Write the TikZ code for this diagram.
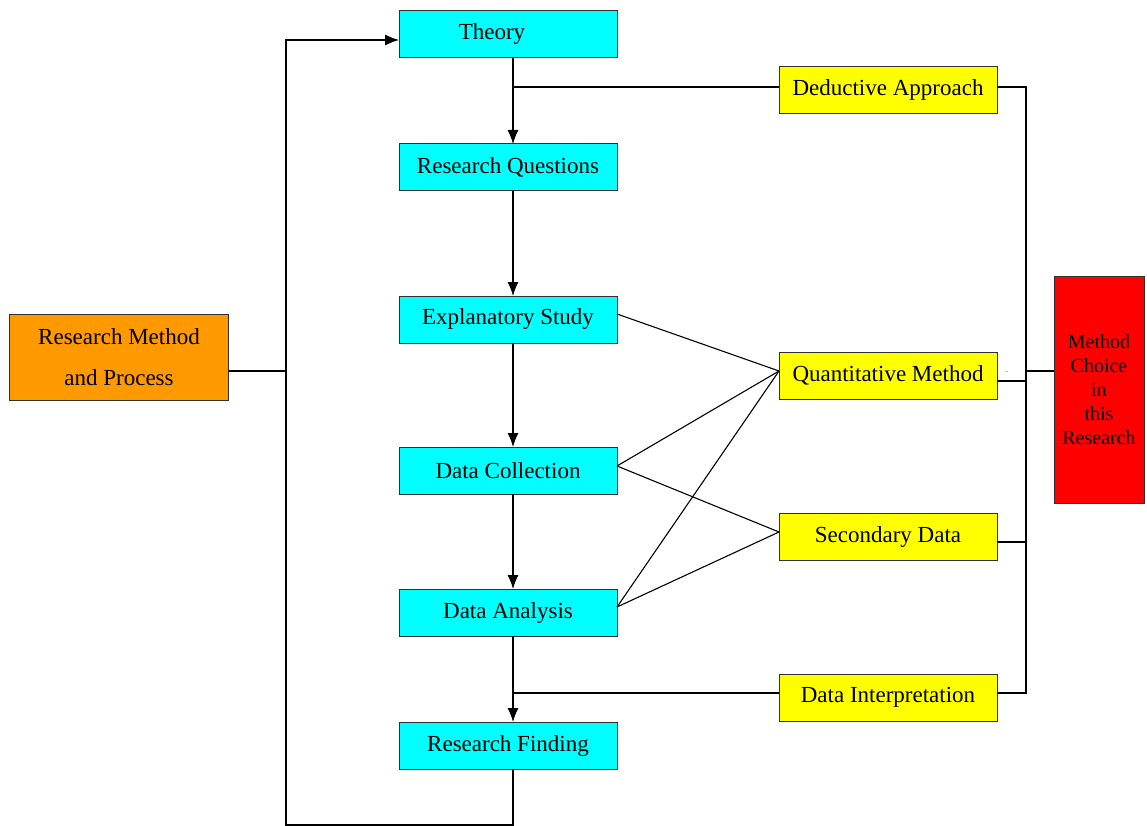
\documentclass[tikz,border=0pt]{standalone}
\usepackage{fontspec}
\setmainfont{Liberation Serif}
\usetikzlibrary{arrows.meta}
\definecolor{boxcyan}{HTML}{00FFFF}
\definecolor{boxyellow}{HTML}{FFFF00}
\definecolor{boxorange}{HTML}{FF9900}
\definecolor{boxred}{HTML}{FF0000}
\definecolor{edge}{HTML}{303030}
\begin{document}
\begin{tikzpicture}[x=1pt,y=-1pt,
  box/.style={draw=edge,line width=1pt,minimum width=218pt,minimum height=47pt,
    inner sep=0pt,outer sep=0pt,font=\fontsize{23}{27}\selectfont},
  stagebox/.style={box,fill=boxcyan},
  methodbox/.style={box,fill=boxyellow},
  link/.style={line width=1.1pt,black},
  flow/.style={link,-{Latex[length=14pt,width=11pt]}}]
\useasboundingbox (0,0) rectangle (1147,826);

% process stages
\node[stagebox] (th) at (508,34.5) {\hspace*{-32pt}Theory};
\node[stagebox] (rq) at (508,167.5) {Research Questions};
\node[stagebox] (es) at (508,319.5) {Explanatory Study};
\node[stagebox] (dc) at (508,470.5) {Data Collection};
\node[stagebox] (da) at (508,612.5) {Data Analysis};
\node[stagebox] (rf) at (508,745.5) {Research Finding};

% method choices
\node[methodbox] (dd) at (888,90) {Deductive Approach};
\node[methodbox] (qm) at (888,375.5) {Quantitative Method};
\node[methodbox] (sd) at (888,537) {Secondary Data};
\node[methodbox] (di) at (888,697.5) {Data Interpretation};

% side boxes
\node[box,fill=boxorange,minimum width=219pt,minimum height=86pt,align=center,
  font=\fontsize{23}{41}\selectfont] (rm) at (119,357) {Research Method\\and Process};
\node[box,fill=boxred,minimum width=90pt,minimum height=227pt,align=center,
  font=\fontsize{20}{24}\selectfont] (mc) at (1099,389.5) {Method\\Choice\\in\\this\\Research};
\node[font=\fontsize{8}{8}\selectfont,anchor=base,inner sep=0pt] (dot) at (1007,372) {.};

% helper coordinates for the routing lines
\coordinate (bus) at (1026,0);
\coordinate (loop) at (286,825);

% main downward flow
\draw[flow] ([xshift=5pt]th.south) -- ([xshift=5pt]rq.north);
\draw[flow] ([xshift=5pt]rq.south) -- ([xshift=5pt]es.north);
\draw[flow] ([xshift=5pt]es.south) -- ([xshift=5pt]dc.north);
\draw[flow] ([xshift=5pt]dc.south) -- ([xshift=5pt]da.north);
\draw[flow] ([xshift=5pt]da.south) -- ([xshift=5pt]rf.north);

% feedback loop from finding back to theory
\draw[flow] ([xshift=5pt]rf.south) |- (loop) |- ([yshift=-5.5pt]th.west);
\draw[link] ([yshift=-14pt]rm.east) -- ([yshift=-14pt]rm.east -| loop);

% approach and interpretation feeds
\draw[link] ([yshift=3pt]dd.west) -- ([yshift=3pt,xshift=5pt]dd.west -| th.south);
\draw[link] ([yshift=4.5pt]di.west) -- ([yshift=4.5pt,xshift=5pt]di.west -| da.south);

% stage to method links
\draw[link] ([yshift=5.5pt]es.east) -- ([yshift=4.5pt]qm.west);
\draw[link] ([yshift=4.5pt]dc.east) -- ([yshift=4.5pt]qm.west);
\draw[link] ([yshift=4.5pt]dc.east) -- ([yshift=5pt]sd.west);
\draw[link] ([yshift=5.5pt]da.east) -- ([yshift=4.5pt]qm.west);
\draw[link] ([yshift=5.5pt]da.east) -- ([yshift=5pt]sd.west);

% right-hand collector bus
\draw[link] ([yshift=3pt]dd.east) -- ([yshift=3pt]dd.east -| bus)
  -- ([yshift=4.5pt]di.east -| bus) -- ([yshift=4.5pt]di.east);
\draw[link] ([yshift=-5.5pt]qm.east) -- ([yshift=-5.5pt]qm.east -| bus);
\draw[link] ([yshift=-5pt]sd.east) -- ([yshift=-5pt]sd.east -| bus);
\draw[link] ([yshift=18.5pt]mc.west) -- ([yshift=18.5pt]mc.west -| bus);
\end{tikzpicture}
\end{document}
